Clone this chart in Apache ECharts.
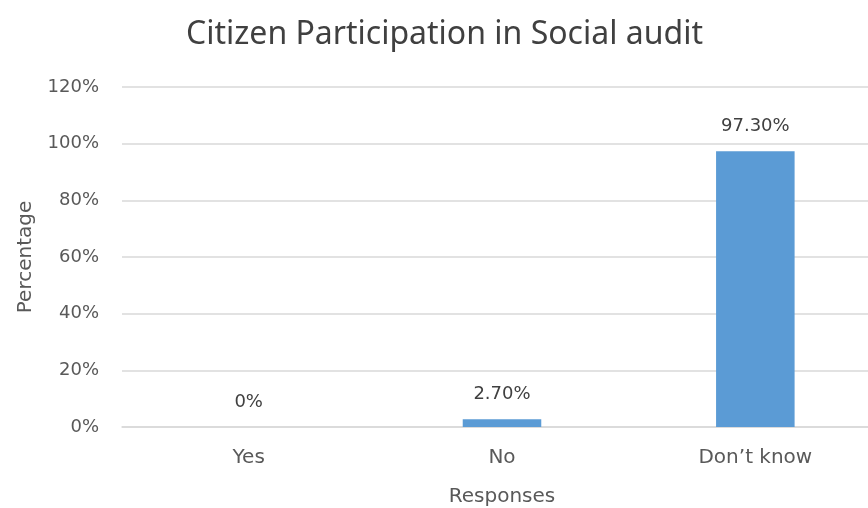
<!DOCTYPE html>
<html>
<head>
<meta charset="utf-8">
<script src="https://cdn.jsdelivr.net/npm/echarts@6/dist/echarts.min.js"></script>
<style>
  html, body { margin: 0; padding: 0; background: #fff; }
  #chart { width: 868px; height: 508px; }
</style>
</head>
<body>
<div id="chart"></div>
<script>
var categories = ['Yes', 'No', 'Don\u2019t know'];
var values = [0, 2.7, 97.3];
var yTicks = [0, 20, 40, 60, 80, 100, 120];

var myChart = echarts.init(document.getElementById('chart'));
var font = 'DejaVu Sans';

var option = {
  animation: false,
  title: {
    text: 'Citizen Participation in Social audit',
    left: 181,
    top: 14,
    textStyle: { fontFamily: 'Noto Sans', fontSize: 32, fontWeight: 'normal', color: '#404040' }
  },
  grid: { left: 122, right: -14, top: 87, bottom: 81, outerBoundsMode: 'none', containLabel: false },
  xAxis: {
    type: 'category',
    data: categories,
    name: 'Responses',
    nameLocation: 'middle',
    nameGap: 60,
    nameTextStyle: { fontFamily: font, fontSize: 20, color: '#595959' },
    axisLine: { lineStyle: { color: '#d9d9d9', width: 1.5 } },
    axisTick: { show: false },
    axisLabel: { fontFamily: font, fontSize: 20, color: '#595959', margin: 21 }
  },
  yAxis: {
    type: 'value',
    min: 0,
    max: 120,
    interval: 20,
    name: 'Percentage',
    nameLocation: 'middle',
    nameGap: 86,
    nameTextStyle: { fontFamily: font, fontSize: 20, color: '#595959' },
    axisLine: { show: false },
    axisTick: { show: false },
    axisLabel: {
      fontFamily: font, fontSize: 18, color: '#595959', margin: 23,
      formatter: function (v) { return yTicks.indexOf(v) >= 0 ? v + '%' : ''; }
    },
    splitLine: { lineStyle: { color: '#d9d9d9', width: 1.5 } }
  },
  series: [{
    type: 'bar',
    data: values,
    barWidth: '31%',
    itemStyle: { color: '#5b9bd5' },
    label: {
      show: true,
      position: 'top',
      distance: 16,
      fontFamily: font,
      fontSize: 18,
      color: '#404040',
      formatter: function (p) { return p.value === 0 ? '0%' : p.value.toFixed(2) + '%'; }
    }
  }]
};
myChart.setOption(option);
</script>
</body>
</html>
